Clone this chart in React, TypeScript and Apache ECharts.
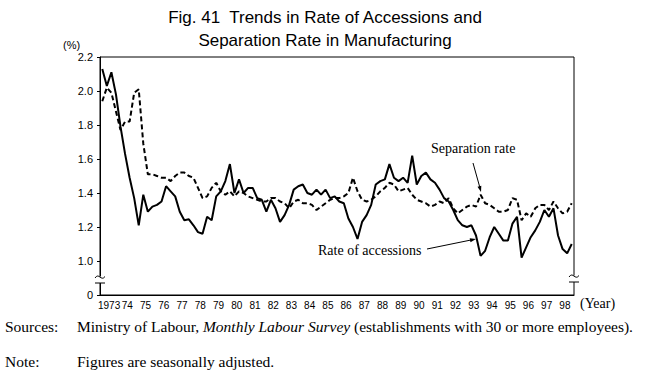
import React, { useEffect, useRef } from 'react';
import * as echarts from 'echarts';

const yearLabels = ['1973', '74', '75', '76', '77', '78', '79', '80', '81', '82', '83', '84', '85', '86', '87', '88', '89', '90', '91', '92', '93', '94', '95', '96', '97', '98'];
const quarterNames = ['I', 'II', 'III', 'IV'];
const quarters = yearLabels.flatMap((y) => quarterNames.map((q) => `${y}-${q}`));

const yTickLabels = ['0', '1.0', '1.2', '1.4', '1.6', '1.8', '2.0', '2.2'];

// Rate of accessions (%), quarterly 1973 I – 1998 IV
const accessions = [
  2.13, 2.03, 2.11, 1.98,
  1.79, 1.63, 1.49, 1.37,
  1.21, 1.39, 1.29, 1.32,
  1.33, 1.35, 1.44, 1.41,
  1.38, 1.29, 1.24, 1.245,
  1.21, 1.17, 1.16, 1.26,
  1.24, 1.38, 1.41, 1.47,
  1.57, 1.40, 1.48, 1.40,
  1.43, 1.43, 1.37, 1.36,
  1.29, 1.36, 1.31, 1.23,
  1.27, 1.33, 1.42, 1.44,
  1.45, 1.40, 1.39, 1.42,
  1.39, 1.42, 1.37, 1.38,
  1.35, 1.34, 1.25, 1.20,
  1.13, 1.23, 1.27, 1.33,
  1.45, 1.47, 1.48, 1.57,
  1.49, 1.47, 1.49, 1.46,
  1.62, 1.45, 1.50, 1.52,
  1.48, 1.46, 1.42, 1.37,
  1.35, 1.30, 1.24, 1.21,
  1.20, 1.21, 1.15, 1.03,
  1.06, 1.14, 1.20, 1.16,
  1.12, 1.12, 1.22, 1.26,
  1.02, 1.08, 1.14, 1.18,
  1.23, 1.30, 1.26, 1.31,
  1.15, 1.07, 1.045, 1.10,
];

// Separation rate (%), quarterly 1973 I – 1998 IV
const separation = [
  1.94, 2.02, 1.99, 1.88,
  1.77, 1.82, 1.82, 1.99,
  2.01, 1.69, 1.51, 1.51,
  1.50, 1.49, 1.49, 1.47,
  1.50, 1.52, 1.52, 1.50,
  1.49, 1.43, 1.37, 1.38,
  1.43, 1.46, 1.41, 1.39,
  1.41, 1.38, 1.41, 1.40,
  1.38, 1.37, 1.36, 1.35,
  1.35, 1.37, 1.37, 1.35,
  1.34, 1.31, 1.35, 1.36,
  1.34, 1.34, 1.33, 1.30,
  1.32, 1.34, 1.36, 1.37,
  1.37, 1.38, 1.40, 1.49,
  1.41, 1.36, 1.35, 1.36,
  1.38, 1.41, 1.43, 1.46,
  1.45, 1.41, 1.42, 1.43,
  1.39, 1.36, 1.35, 1.34,
  1.32, 1.33, 1.35, 1.34,
  1.37, 1.31, 1.28, 1.30,
  1.32, 1.33, 1.32, 1.39,
  1.34, 1.33, 1.31, 1.29,
  1.29, 1.30, 1.37, 1.36,
  1.24, 1.28, 1.26, 1.31,
  1.33, 1.33, 1.30, 1.35,
  1.31, 1.28, 1.29, 1.34,
];

const SANS = '"Liberation Sans", Arial, sans-serif';
const NARROW = '"Liberation Sans Narrow", "Liberation Sans", Arial, sans-serif';
const SERIF = '"Liberation Serif", "Times New Roman", serif';

export default function App() {
  const ref = useRef<HTMLDivElement>(null);

  useEffect(() => {
    document.body.style.margin = '0';
    if (!ref.current) return;
    const chart = echarts.init(ref.current, undefined, { renderer: 'svg' });

    const breakMarks = (x: number, yTop: number) => [
      { type: 'rect', z: 100, shape: { x: x - 6, y: yTop - 0.5, width: 12, height: 6.5 }, style: { fill: '#fff' } },
      {
        type: 'bezierCurve', z: 101,
        shape: { x1: x - 5, y1: yTop + 1, x2: x + 5, y2: yTop - 0.5, cpx1: x - 1, cpy1: yTop - 5, cpx2: x + 1, cpy2: yTop + 5 },
        style: { stroke: '#000', lineWidth: 1, fill: 'none' },
      },
      { type: 'line', z: 101, shape: { x1: x - 5, y1: yTop + 6, x2: x + 5, y2: yTop + 6 }, style: { stroke: '#000', lineWidth: 1 } },
    ];

    chart.setOption({
      animation: false,
      backgroundColor: '#fff',
      grid: { left: 100, right: 73, top: 57, bottom: 82, show: true, borderColor: '#000', borderWidth: 1 },
      xAxis: [
        {
          type: 'category',
          data: yearLabels,
          boundaryGap: true,
          axisLine: { lineStyle: { color: '#000', width: 1 } },
          axisTick: { show: false },
          axisLabel: { color: '#000', fontFamily: NARROW, fontSize: 10, margin: 5, interval: 0 },
        },
        {
          type: 'category',
          data: quarters,
          boundaryGap: true,
          show: false,
        },
      ],
      yAxis: {
        type: 'value',
        min: 0.8,
        max: 2.2,
        interval: 0.2,
        axisLine: { show: true, lineStyle: { color: '#000', width: 1 } },
        axisTick: { show: true, length: 3, lineStyle: { color: '#000' } },
        splitLine: { show: false },
        axisLabel: {
          color: '#000', fontFamily: SANS, fontSize: 11, margin: 7,
          formatter: (_v: number, i: number) => yTickLabels[i] ?? '',
        },
      },
      series: [
        {
          name: 'Rate of accessions',
          type: 'line',
          xAxisIndex: 1,
          data: accessions,
          symbol: 'none',
          lineStyle: { color: '#000', width: 2 },
          z: 3,
        },
        {
          name: 'Separation rate',
          type: 'line',
          xAxisIndex: 1,
          data: separation,
          symbol: 'none',
          lineStyle: { color: '#000', width: 2, type: [5, 3] },
          z: 2,
        },
      ],
      graphic: [
        {
          type: 'text', z: 100, x: 325, y: 6,
          style: {
            text: 'Fig. 41  Trends in Rate of Accessions and\nSeparation Rate in Manufacturing',
            font: `17px ${SANS}`, fill: '#000', textAlign: 'center', lineHeight: 23,
          },
        },
        { type: 'text', z: 100, left: 63, top: 39, style: { text: '(%)', font: `11px ${SANS}`, fill: '#000' } },
        { type: 'text', z: 100, left: 580, top: 296, style: { text: '(Year)', font: `14px ${SERIF}`, fill: '#000' } },
        ...breakMarks(100, 277),
        ...breakMarks(574, 276),
        { type: 'text', z: 100, left: 431, top: 141, style: { text: 'Separation rate', font: `14px ${SERIF}`, fill: '#000' } },
        { type: 'line', z: 100, shape: { x1: 473, y1: 163, x2: 480, y2: 188 }, style: { stroke: '#000', lineWidth: 1 } },
        { type: 'polygon', z: 100, shape: { points: [[481, 192], [481.3, 185.7], [477.5, 186.7]] }, style: { fill: '#000' } },
        { type: 'text', z: 100, left: 318, top: 243, style: { text: 'Rate of accessions', font: `14px ${SERIF}`, fill: '#000' } },
        { type: 'line', z: 100, shape: { x1: 427, y1: 249, x2: 472, y2: 239.8 }, style: { stroke: '#000', lineWidth: 1 } },
        { type: 'polygon', z: 100, shape: { points: [[476, 239], [470.5, 242.2], [469.7, 238.2]] }, style: { fill: '#000' } },
        {
          type: 'text', z: 100, left: 5, top: 318,
          style: { text: 'Sources:', font: `15.5px ${SERIF}`, fill: '#000' },
        },
        {
          type: 'text', z: 100, left: 77, top: 318,
          style: {
            text: '{n|Ministry of Labour, }{i|Monthly Labour Survey}{n| (establishments with 30 or more employees).}',
            fill: '#000',
            rich: {
              n: { fontFamily: SERIF, fontSize: 15.5, fill: '#000' },
              i: { fontFamily: SERIF, fontSize: 15.5, fontStyle: 'italic', fill: '#000' },
            },
          },
        },
        { type: 'text', z: 100, left: 5, top: 353, style: { text: 'Note:', font: `15.5px ${SERIF}`, fill: '#000' } },
        { type: 'text', z: 100, left: 77, top: 353, style: { text: 'Figures are seasonally adjusted.', font: `15.5px ${SERIF}`, fill: '#000' } },
      ],
    });

    return () => chart.dispose();
  }, []);

  return <div ref={ref} style={{ width: 647, height: 377 }} />;
}
